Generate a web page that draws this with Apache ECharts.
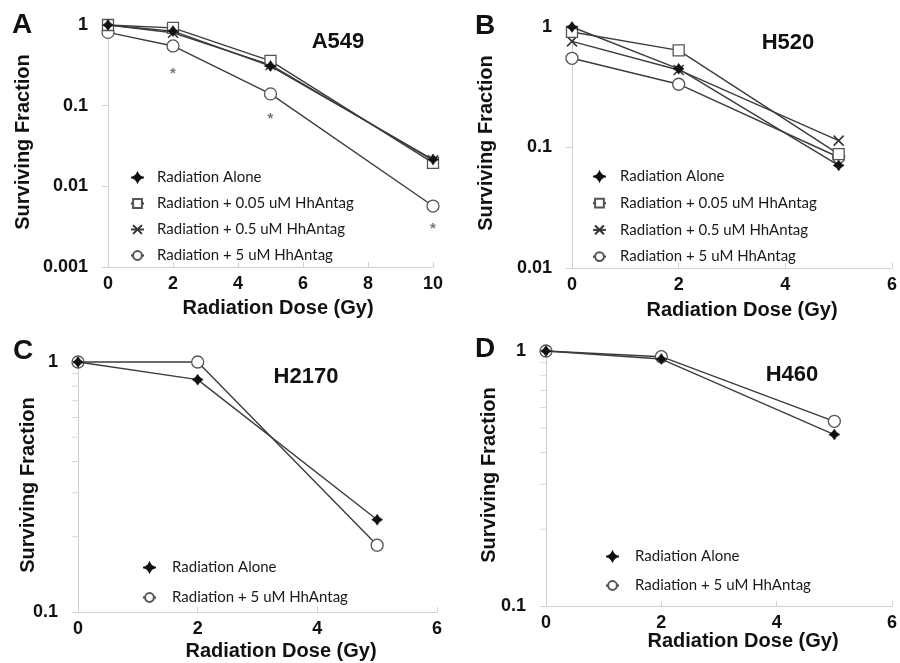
<!DOCTYPE html>
<html>
<head>
<meta charset="utf-8">
<script src="https://cdn.jsdelivr.net/npm/echarts@6/dist/echarts.min.js"></script>
<style>html,body{margin:0;padding:0;background:#fff;}#c{width:900px;height:663px;}</style>
</head>
<body>
<div id="c"></div>
<script>
// ---- data ----
const doseA = [0, 2, 5, 10];
const a549Alone = [1.0, 0.84, 0.31, 0.0215];
const a549Hh005 = [1.0, 0.92, 0.36, 0.0195];
const a549Hh05 = [1.0, 0.80, 0.32, 0.021];
const a549Hh5 = [0.81, 0.55, 0.14, 0.0057];
const a549StarDose = [2, 5, 10];
const a549Star = [0.28, 0.077, 0.0033];

const doseB = [0, 2, 5];
const h520Alone = [1.0, 0.45, 0.071];
const h520Hh005 = [0.91, 0.64, 0.088];
const h520Hh05 = [0.76, 0.44, 0.114];
const h520Hh5 = [0.55, 0.335, 0.083];

const doseC = [0, 2, 5];
const h2170Alone = [1.0, 0.85, 0.234];
const h2170Hh5 = [1.0, 1.0, 0.185];

const doseD = [0, 2, 5];
const h460Alone = [1.0, 0.93, 0.47];
const h460Hh5 = [1.0, 0.95, 0.53];

const minorTicks = [0.2, 0.3, 0.4, 0.5, 0.6, 0.7, 0.8, 0.9];

const names = ['Radiation Alone', 'Radiation + 0.05 uM HhAntag', 'Radiation + 0.5 uM HhAntag', 'Radiation + 5 uM HhAntag'];
const cellLines = ['A549', 'H520', 'H2170', 'H460'];
const panelLetters = ['A', 'B', 'C', 'D'];
const xTitle = 'Radiation Dose (Gy)';
const yTitle = 'Surviving Fraction';

// ---- helpers ----
const zip = (xs, ys) => xs.map((x, i) => [x, ys[i]]);
const STAR = 'path://M5,0 Q6.6,3.4 10,5 Q6.6,6.6 5,10 Q3.4,6.6 0,5 Q3.4,3.4 5,0 Z';
const XMARK = 'path://M0,0 L10,10 M10,0 L0,10';
const styles = [
  { symbol: STAR, symbolSize: 11, itemStyle: { color: '#111', borderColor: '#111', borderWidth: 0.5 } },
  { symbol: 'rect', symbolSize: 11, itemStyle: { color: '#fff', borderColor: '#555', borderWidth: 1.3 } },
  { symbol: XMARK, symbolSize: 10, itemStyle: { color: 'none', borderColor: '#333', borderWidth: 1.5 } },
  { symbol: 'circle', symbolSize: 12, itemStyle: { color: '#fff', borderColor: '#555', borderWidth: 1.3 } }
];
function line(idx, gi, xs, ys) {
  return Object.assign({
    type: 'line', name: names[idx], xAxisIndex: gi, yAxisIndex: gi,
    data: zip(xs, ys), showSymbol: true, clip: false,
    lineStyle: { color: '#3c3c3c', width: 1.4 }, z: 3 + (3 - idx)
  }, JSON.parse(JSON.stringify(styles[idx])));
}
function minor(gi) {
  return {
    type: 'scatter', xAxisIndex: gi, yAxisIndex: gi, silent: true,
    data: minorTicks.map(v => [0, v]), symbol: 'rect', symbolSize: [6, 1], symbolOffset: [-3, 0],
    itemStyle: { color: '#cfcfcf' }, z: 1
  };
}

const grids = [
  { left: 108, top: 25, width: 325, height: 242 },
  { left: 572, top: 27, width: 327, height: 241 },
  { left: 78, top: 362, width: 359, height: 250 },
  { left: 546, top: 351, width: 350, height: 255 }
];
const xMax = [10, 6, 6, 6];
const yMin = [0.001, 0.01, 0.1, 0.1];

const tickFont = { fontFamily: 'Liberation Sans, Arial', fontWeight: 'bold', fontSize: 18, color: '#111' };

const xAxis = grids.map((g, i) => ({
  type: 'value', gridIndex: i, min: 0, max: xMax[i], interval: 2,
  axisLine: { onZero: false, lineStyle: { color: '#d0d0d0', width: 1 } },
  axisTick: { show: true, inside: true, length: 5, lineStyle: { color: '#d0d0d0' } },
  splitLine: { show: false },
  axisLabel: Object.assign({ margin: 8 }, tickFont)
}));
const yAxis = grids.map((g, i) => ({
  type: 'log', logBase: 10, gridIndex: i, min: yMin[i], max: 1,
  axisLine: { show: true, lineStyle: { color: '#d0d0d0', width: 1 } },
  axisTick: { show: true, inside: false, length: 6, lineStyle: { color: '#d0d0d0' } },
  splitLine: { show: false },
  axisLabel: Object.assign({ margin: 20 }, tickFont)
}));

const series = [
  line(0, 0, doseA, a549Alone), line(1, 0, doseA, a549Hh005), line(2, 0, doseA, a549Hh05), line(3, 0, doseA, a549Hh5),
  {
    type: 'scatter', xAxisIndex: 0, yAxisIndex: 0, silent: true,
    data: zip(a549StarDose, a549Star), symbol: 'circle', symbolSize: 1,
    itemStyle: { color: 'rgba(0,0,0,0)' },
    label: { show: true, formatter: '*', position: 'inside', offset: [0, 4], fontSize: 15, fontWeight: 'bold', color: '#555', fontFamily: 'Liberation Sans' }
  },
  line(0, 1, doseB, h520Alone), line(1, 1, doseB, h520Hh005), line(2, 1, doseB, h520Hh05), line(3, 1, doseB, h520Hh5),
  line(0, 2, doseC, h2170Alone), line(3, 2, doseC, h2170Hh5), minor(2),
  line(0, 3, doseD, h460Alone), line(3, 3, doseD, h460Hh5), minor(3)
];

function legend(left, top, data, gap, pad) {
  return { orient: 'vertical', left: left, top: top, itemWidth: 13, itemHeight: 11, itemGap: gap,
    data: data, selectedMode: false,
    textStyle: { fontFamily: 'Lato, Carlito, Calibri, sans-serif', fontSize: 15, color: '#1a1a1a', padding: [0, 0, 0, pad] } };
}
const legends = [
  legend(125, 165, names, 11, 8),
  legend(587, 164, names, 11.7, 9),
  legend(137, 555, [names[0], names[3]], 15, 11),
  legend(600, 544, [names[0], names[3]], 14, 11)
];

function txt(x, y, s, size, rot) {
  return { type: 'text', x: x, y: y, rotation: rot || 0,
    style: { text: s, fontFamily: 'Liberation Sans, Arial', fontWeight: 'bold', fontSize: size, fill: '#111', align: 'center', verticalAlign: 'middle' } };
}
const letterPos = [[22, 25], [485, 26], [23, 351], [485, 349]];
const titlePos = [[338, 42], [788, 43], [306, 377], [792, 375]];
const xTitlePos = [[278, 308], [742, 310], [281, 651], [743, 641]];
const yTitlePos = [[23, 142], [486, 143], [28, 485], [489, 475]];
const graphic = [];
for (let i = 0; i < 4; i++) {
  graphic.push(txt(letterPos[i][0], letterPos[i][1], panelLetters[i], 28));
  graphic.push(txt(titlePos[i][0], titlePos[i][1], cellLines[i], 22));
  graphic.push(txt(xTitlePos[i][0], xTitlePos[i][1], xTitle, 20));
  graphic.push(txt(yTitlePos[i][0], yTitlePos[i][1], yTitle, 20, Math.PI / 2));
}

const chart = echarts.init(document.getElementById('c'), null, { renderer: 'canvas' });
chart.setOption({
  animation: false,
  backgroundColor: '#fff',
  grid: grids,
  xAxis: xAxis,
  yAxis: yAxis,
  legend: legends,
  series: series,
  graphic: graphic
});
</script>
</body>
</html>
